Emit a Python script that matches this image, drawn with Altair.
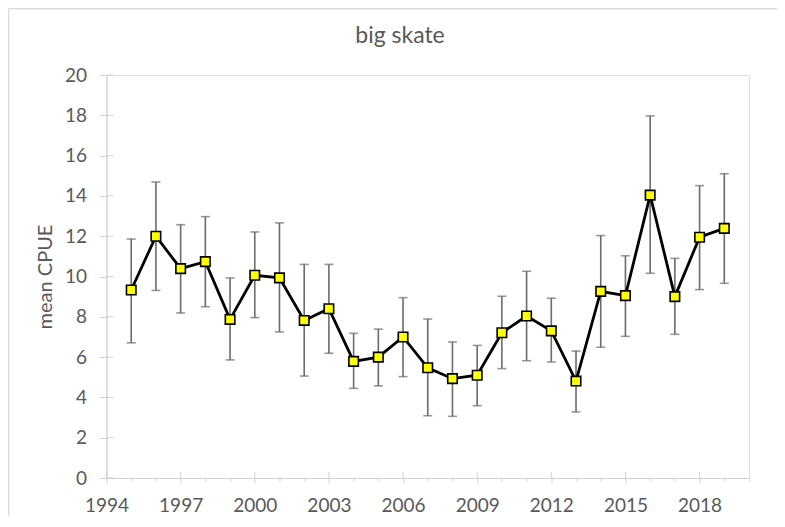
import altair as alt
import pandas as pd

years = list(range(1995, 2020))
cpue = [9.33, 12.0, 10.39, 10.74, 7.87, 10.06, 9.93, 7.82, 8.40, 5.79, 6.0, 7.0, 5.47,
        4.93, 5.10, 7.21, 8.04, 7.30, 4.81, 9.26, 9.05, 14.04, 9.0, 11.95, 12.39]
upper = [11.86, 14.69, 12.57, 12.97, 9.93, 12.21, 12.66, 10.6, 10.6, 7.18, 7.39, 8.95, 7.89,
         6.75, 6.58, 9.02, 10.26, 8.92, 6.30, 12.03, 11.03, 17.97, 10.90, 14.51, 15.10]
lower = [6.71, 9.31, 8.19, 8.50, 5.86, 7.96, 7.25, 5.06, 6.19, 4.45, 4.57, 5.03, 3.09,
         3.06, 3.59, 5.43, 5.82, 5.76, 3.28, 6.49, 7.03, 10.16, 7.13, 9.35, 9.66]
y_ticks = list(range(0, 21, 2))
x_major = list(range(1994, 2021, 3))
title_text = ["big skate"]

df = pd.DataFrame({"year": years, "cpue": cpue, "upper": upper, "lower": lower})

FONT = "Lato"
GRAY = "#595959"
AXIS = "#d0d0d0"

xscale = alt.Scale(domain=[1994, 2020], nice=False, zero=False)
yscale = alt.Scale(domain=[0, 20], nice=False)

xaxis = alt.Axis(
    values=list(range(1994, 2021)),
    labelExpr="(datum.value - 1994) % 3 == 0 ? format(datum.value, 'd') : ''",
    tickSize={"condition": {"test": "(datum.value - 1994) % 3 == 0", "value": 5}, "value": 3},
    grid=False, domainColor=AXIS, tickColor=AXIS, labelColor=GRAY,
    labelFont=FONT, labelFontSize=19, labelPadding=13, title=None, labelFlush=False,
    labelOverlap=False,
)
yaxis = alt.Axis(
    values=y_ticks, grid=False, domainColor=AXIS, tickColor=AXIS, tickSize=7,
    labelColor=GRAY, labelFont=FONT, labelFontSize=19, labelPadding=13,
    title="mean CPUE", titleColor=GRAY, titleFont=FONT, titleFontSize=20,
    titleFontWeight="normal", titleAngle=-90, titleX=-61, titleY=201.5,
    titleAlign="center", titleBaseline="middle",
)

base = alt.Chart(df)

bars = base.mark_rule(color="#6b6b6b", strokeWidth=1.6).encode(
    x=alt.X("year:Q", scale=xscale, axis=xaxis),
    y=alt.Y("lower:Q", scale=yscale, axis=yaxis),
    y2="upper:Q",
)
cap_hi = base.mark_tick(color="#6b6b6b", orient="horizontal", size=9, thickness=1.6).encode(
    x=alt.X("year:Q", scale=xscale, axis=xaxis), y=alt.Y("upper:Q", scale=yscale, axis=yaxis)
)
cap_lo = base.mark_tick(color="#6b6b6b", orient="horizontal", size=9, thickness=1.6).encode(
    x=alt.X("year:Q", scale=xscale, axis=xaxis), y=alt.Y("lower:Q", scale=yscale, axis=yaxis)
)
line = base.mark_line(color="black", strokeWidth=2.8).encode(
    x=alt.X("year:Q", scale=xscale, axis=xaxis), y=alt.Y("cpue:Q", scale=yscale, axis=yaxis)
)
pts = base.mark_point(shape="square", filled=True, fill="#ffff00", stroke="black",
                      strokeWidth=1.6, size=90, opacity=1).encode(
    x=alt.X("year:Q", scale=xscale, axis=xaxis), y=alt.Y("cpue:Q", scale=yscale, axis=yaxis)
)

yin = alt.Chart(pd.DataFrame({"v": y_ticks})).mark_rule(color=AXIS, strokeWidth=1).encode(
    y=alt.Y("v:Q", scale=yscale, axis=yaxis), x=alt.value(0), x2=alt.value(7)
)
xin = alt.Chart(pd.DataFrame({"v": x_major})).mark_rule(color=AXIS, strokeWidth=1).encode(
    x=alt.X("v:Q", scale=xscale, axis=xaxis), y=alt.value(397), y2=alt.value(403)
)
border_top = alt.Chart(pd.DataFrame({"a": [0]})).mark_rule(color="#d9d9d9", strokeWidth=1.5).encode(
    x=alt.value(-98), x2=alt.value(700), y=alt.value(-66.5)
)
border_left = alt.Chart(pd.DataFrame({"a": [0]})).mark_rule(color="#d9d9d9", strokeWidth=1.5).encode(
    x=alt.value(-98), y=alt.value(-66.5), y2=alt.value(450)
)
title = alt.Chart(pd.DataFrame({"t": title_text})).mark_text(
    font=FONT, fontSize=23, color=GRAY, align="center", baseline="alphabetic"
).encode(text="t:N", x=alt.value(293.5), y=alt.value(-32))

chart = alt.layer(border_top, border_left, yin, xin, bars, cap_hi, cap_lo, line, pts, title).properties(
    width=642.5, height=403,
    autosize=alt.AutoSizeParams(type="none"),
    padding={"left": 98.5, "top": 67, "right": 28, "bottom": 38},
).configure_view(stroke=None).configure_axis(labelOverlap=False).configure(background="white")

chart.save("out.html", embed_options={"renderer": "svg", "actions": False})
